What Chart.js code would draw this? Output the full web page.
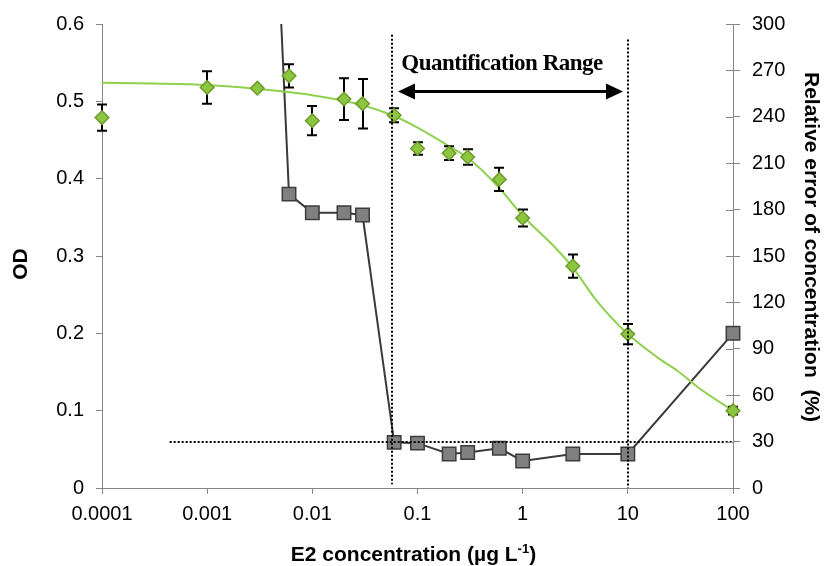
<!DOCTYPE html>
<html>
<head>
<meta charset="utf-8">
<script src="https://cdn.jsdelivr.net/npm/chart.js@4/dist/chart.umd.min.js"></script>
<style>
  html, body { margin: 0; padding: 0; background: #fff; }
  canvas { display: block; }
</style>
</head>
<body>
<canvas id="chart" width="830" height="566"></canvas>
<script>
// E2 standards (µg/L) and their mean optical density with standard deviation
const concentrations = [0.0001, 0.001, 0.003, 0.006, 0.01, 0.02, 0.03, 0.06, 0.1, 0.2, 0.3, 0.6, 1, 3, 10, 100];
const odMeans        = [0.479, 0.518, 0.517, 0.533, 0.475, 0.503, 0.497, 0.482, 0.439, 0.433, 0.428, 0.399, 0.349, 0.287, 0.199, 0.100];
const odErrors       = [0.017, 0.021, 0.002, 0.015, 0.019, 0.027, 0.032, 0.009, 0.008, 0.009, 0.010, 0.015, 0.011, 0.015, 0.013, 0.005];

// Fitted calibration curve (OD)
const fitConcentrations = [0.0001, 0.0003, 0.001, 0.003, 0.01, 0.03, 0.06, 0.1, 0.2, 0.3, 0.6, 1, 2, 3, 5, 10, 20, 30, 50, 100];
const fitOD             = [0.524, 0.523, 0.521, 0.516, 0.508, 0.495, 0.481, 0.466, 0.442, 0.427, 0.388, 0.352, 0.312, 0.285, 0.243, 0.199, 0.167, 0.151, 0.127, 0.100];

// Relative error of the back-calculated concentration (%)
const errorConcentrations = [0.003, 0.006, 0.01, 0.02, 0.03, 0.06, 0.1, 0.2, 0.3, 0.6, 1, 3, 10, 100];
const relativeErrors      = [640, 190, 178, 178, 176.5, 29.5, 29, 22, 23, 25.7, 17.5, 22, 22, 100];

// Quantification range limits (µg/L) and the accepted error level (%)
const rangeLimits = [0.057, 10];
const acceptedError = 30;
const acceptedErrorFrom = 0.00044;

// Axis ticks
const xTickValues = [0.0001, 0.001, 0.01, 0.1, 1, 10, 100];
const xTickLabels = ['0.0001', '0.001', '0.01', '0.1', '1', '10', '100'];
const odTickLabels = ['0', '0.1', '0.2', '0.3', '0.4', '0.5', '0.6'];
const errorTickLabels = ['0', '30', '60', '90', '120', '150', '180', '210', '240', '270', '300'];

const FONT = "'Liberation Sans', Arial, Helvetica, sans-serif";
Chart.defaults.font.family = FONT;
Chart.defaults.color = '#000';

const AXIS_GREY = '#868686';

const annotations = {
  id: 'annotations',
  // error bars sit above the fitted curve and under the diamonds
  afterDatasetDraw(chart, args) {
    if (args.index !== 1) return;
    const { ctx, scales: { x, y } } = chart;
    ctx.save();
    ctx.strokeStyle = '#000';
    ctx.lineWidth = 2;
    concentrations.forEach((c, i) => {
      const px = Math.round(x.getPixelForValue(c));
      const top = y.getPixelForValue(odMeans[i] + odErrors[i]);
      const bot = y.getPixelForValue(odMeans[i] - odErrors[i]);
      ctx.beginPath();
      ctx.moveTo(px, top); ctx.lineTo(px, bot);
      ctx.moveTo(px - 5, top); ctx.lineTo(px + 5, top);
      ctx.moveTo(px - 5, bot); ctx.lineTo(px + 5, bot);
      ctx.stroke();
    });
    ctx.restore();
  },
  afterDatasetsDraw(chart) {
    const { ctx, chartArea, scales: { x, y, y1 } } = chart;
    const xl = Math.round(x.getPixelForValue(rangeLimits[0]));
    const xr = Math.round(x.getPixelForValue(rangeLimits[1]));
    ctx.save();
    // dotted limits
    ctx.strokeStyle = '#000';
    ctx.lineWidth = 2;
    ctx.setLineDash([2, 2]);
    ctx.beginPath();
    ctx.moveTo(xl, y.getPixelForValue(0.586)); ctx.lineTo(xl, y.getPixelForValue(0.005));
    ctx.moveTo(xr, y.getPixelForValue(0.580)); ctx.lineTo(xr, y.getPixelForValue(0));
    const ye = Math.round(y1.getPixelForValue(acceptedError));
    ctx.moveTo(x.getPixelForValue(acceptedErrorFrom), ye); ctx.lineTo(chartArea.right, ye);
    ctx.stroke();
    ctx.setLineDash([]);

    // double-headed arrow across the quantification range
    const ay = Math.round(y.getPixelForValue(0.514)) + 0.5;
    const l = xl + 6, r = xr - 5, head = 17, half = 8;
    ctx.lineWidth = 3;
    ctx.beginPath();
    ctx.moveTo(l + head - 2, ay); ctx.lineTo(r - head + 2, ay);
    ctx.stroke();
    ctx.fillStyle = '#000';
    ctx.beginPath();
    ctx.moveTo(l, ay); ctx.lineTo(l + head, ay - half); ctx.lineTo(l + head, ay + half); ctx.closePath();
    ctx.fill();
    ctx.beginPath();
    ctx.moveTo(r, ay); ctx.lineTo(r - head, ay - half); ctx.lineTo(r - head, ay + half); ctx.closePath();
    ctx.fill();

    ctx.font = "bold 23px 'Liberation Serif', 'Times New Roman', serif";
    if ('letterSpacing' in ctx) ctx.letterSpacing = '-0.5px';
    ctx.textAlign = 'center';
    ctx.textBaseline = 'alphabetic';
    ctx.fillText('Quantification Range', (xl + xr) / 2 - 8, ay - 22);
    ctx.restore();
  },
  afterDraw(chart) {
    const { ctx, chartArea, scales: { y1 } } = chart;
    ctx.save();
    // inner half of the right-axis tick marks
    ctx.strokeStyle = AXIS_GREY;
    ctx.lineWidth = 1;
    ctx.beginPath();
    y1.ticks.forEach(t => {
      const py = Math.round(y1.getPixelForValue(t.value)) + 0.5;
      ctx.moveTo(chartArea.right - 7, py); ctx.lineTo(chartArea.right, py);
    });
    ctx.stroke();

    ctx.fillStyle = '#000';
    ctx.font = 'bold 21px ' + FONT;
    ctx.textAlign = 'center';
    ctx.textBaseline = 'middle';

    // left axis title
    ctx.save();
    ctx.translate(21, 264);
    ctx.rotate(-Math.PI / 2);
    ctx.fillText('OD', 0, 0);
    ctx.restore();

    // right axis title
    ctx.save();
    ctx.translate(811, 247);
    ctx.rotate(Math.PI / 2);
    ctx.fillText('Relative error of concentration  (%)', 0, 0);
    ctx.restore();

    // x axis title with superscript unit
    const main = 'E2 concentration (\u00b5g L';
    const sup = '-1';
    const tail = ')';
    ctx.textAlign = 'left';
    ctx.textBaseline = 'alphabetic';
    const bigFont = 'bold 21px ' + FONT;
    const supFont = 'bold 13px ' + FONT;
    ctx.font = bigFont; const w1 = ctx.measureText(main).width; const w3 = ctx.measureText(tail).width;
    ctx.font = supFont; const w2 = ctx.measureText(sup).width;
    let tx = 413.5 - (w1 + w2 + w3) / 2;
    const base = 561;
    ctx.font = bigFont; ctx.fillText(main, tx, base); tx += w1;
    ctx.font = supFont; ctx.fillText(sup, tx, base - 8); tx += w2;
    ctx.font = bigFont; ctx.fillText(tail, tx, base);
    ctx.restore();
  }
};

const axisGrid = { display: true, drawOnChartArea: false, drawTicks: true, tickLength: 6, color: AXIS_GREY, lineWidth: 1 };
const axisBorder = { display: true, color: AXIS_GREY, width: 1 };

new Chart(document.getElementById('chart'), {
  type: 'line',
  data: {
    datasets: [
      {
        label: 'OD',
        data: concentrations.map((c, i) => ({ x: c, y: odMeans[i] })),
        showLine: false,
        pointStyle: 'rectRot',
        pointRadius: 6.8,
        pointBackgroundColor: '#8cc63e',
        pointBorderColor: '#6f9a2d',
        pointBorderWidth: 1.5,
        yAxisID: 'y',
        order: 1,
        clip: false
      },
      {
        label: 'Fitted curve',
        data: fitConcentrations.map((c, i) => ({ x: c, y: fitOD[i] })),
        borderColor: '#8fd14f',
        borderWidth: 2,
        pointRadius: 0,
        cubicInterpolationMode: 'monotone',
        yAxisID: 'y',
        order: 2
      },
      {
        label: 'Relative error',
        data: errorConcentrations.map((c, i) => ({ x: c, y: relativeErrors[i] })),
        borderColor: '#3a3a3a',
        borderWidth: 2,
        tension: 0,
        pointStyle: 'rect',
        pointRadius: 9.5,
        pointBackgroundColor: '#808080',
        pointBorderColor: '#3c3c3c',
        pointBorderWidth: 1.5,
        yAxisID: 'y1',
        order: 3,
        clip: { left: false, top: 0, right: false, bottom: false }
      }
    ]
  },
  options: {
    responsive: false,
    animation: false,
    events: [],
    layout: { padding: { top: 24, left: 0, right: 0, bottom: 0 } },
    plugins: { legend: { display: false }, tooltip: { enabled: false } },
    scales: {
      x: {
        type: 'logarithmic',
        position: 'bottom',
        min: 0.0001,
        max: 100,
        afterBuildTicks: s => { s.ticks = xTickValues.map(v => ({ value: v })); },
        afterFit: s => { s.height = 78; },
        ticks: {
          callback: (v, i) => xTickLabels[i],
          font: { size: 20 },
          padding: 8,
          maxRotation: 0,
          autoSkip: false
        },
        grid: axisGrid,
        border: axisBorder
      },
      y: {
        position: 'left',
        min: 0,
        max: 0.6,
        afterFit: s => { s.width = 102; },
        ticks: {
          stepSize: 0.1,
          callback: (v, i) => odTickLabels[i],
          font: { size: 20 },
          padding: 12
        },
        grid: axisGrid,
        border: axisBorder
      },
      y1: {
        position: 'right',
        min: 0,
        max: 300,
        afterFit: s => { s.width = 97; },
        ticks: {
          stepSize: 30,
          callback: (v, i) => errorTickLabels[i],
          font: { size: 20 },
          padding: 12
        },
        grid: { ...axisGrid, tickLength: 7 },
        border: axisBorder
      }
    }
  },
  plugins: [annotations]
});
</script>
</body>
</html>
